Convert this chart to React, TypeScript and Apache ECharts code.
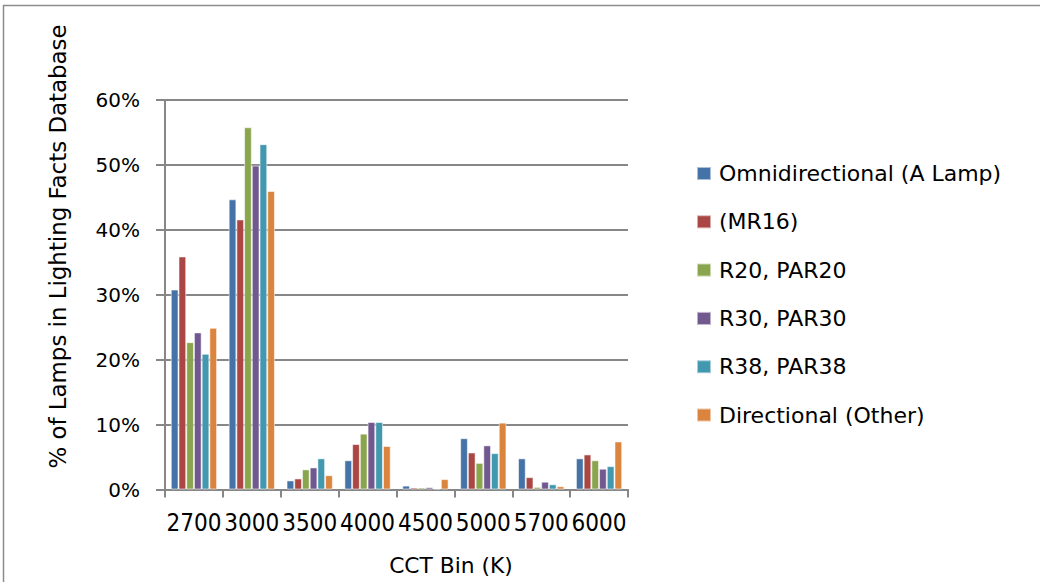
import React, { useEffect, useRef } from "react";
import * as echarts from "echarts";

const categories = ["2700", "3000", "3500", "4000", "4500", "5000", "5700", "6000"];
const seriesNames = [
  "Omnidirectional (A Lamp)",
  "(MR16)",
  "R20, PAR20",
  "R30, PAR30",
  "R38, PAR38",
  "Directional (Other)",
];
const omni = [30.8, 44.7, 1.4, 4.5, 0.6, 7.9, 4.8, 4.8];
const mr16 = [35.9, 41.6, 1.7, 7.0, 0.3, 5.7, 1.9, 5.4];
const r20 = [22.7, 55.8, 3.1, 8.6, 0.3, 4.1, 0.4, 4.5];
const r30 = [24.2, 49.9, 3.4, 10.4, 0.35, 6.8, 1.2, 3.2];
const r38 = [20.9, 53.2, 4.8, 10.4, 0.15, 5.6, 0.8, 3.6];
const dirOther = [24.9, 46.0, 2.2, 6.7, 1.6, 10.3, 0.5, 7.4];
const seriesData = [omni, mr16, r20, r30, r38, dirOther];
const colors = ["#4572A7", "#AA4643", "#89A54E", "#71588F", "#4198AF", "#DB843D"];
const yTicks = [0, 10, 20, 30, 40, 50, 60];

const FONT = "'DejaVu Sans', sans-serif";
const NARROW = "'Liberation Sans Narrow', 'DejaVu Sans Condensed', 'DejaVu Sans', sans-serif";
const GREY = "#878787";

export default function App() {
  const ref = useRef<HTMLDivElement>(null);
  useEffect(() => {
    document.body.style.margin = "0";
    const chart = echarts.init(ref.current!, null, { renderer: "svg" });
    chart.setOption({
      animation: false,
      backgroundColor: "#ffffff",
      textStyle: { fontFamily: FONT, color: "#000" },
      grid: { left: 165, right: 412, top: 100, bottom: 92.5, containLabel: false },
      legend: {
        orient: "vertical",
        left: 691,
        top: 157.5,
        icon: "rect",
        itemWidth: 14,
        itemHeight: 13,
        itemGap: 26.3,
        textStyle: { fontFamily: FONT, fontSize: 22, color: "#000", padding: [0, 0, 0, 3] },
        data: seriesNames,
      },
      xAxis: {
        type: "category",
        data: categories,
        axisLine: { lineStyle: { color: GREY, width: 2 } },
        axisTick: { show: true, length: 8, lineStyle: { color: GREY, width: 2 } },
        axisLabel: { fontFamily: NARROW, fontSize: 24, color: "#000", margin: 21, interval: 0 },
      },
      yAxis: {
        type: "value",
        min: yTicks[0],
        max: yTicks[yTicks.length - 1],
        interval: 10,
        axisLine: { show: true, lineStyle: { color: GREY, width: 2 } },
        axisTick: { show: true, length: 9, lineStyle: { color: GREY, width: 2 } },
        axisLabel: { fontFamily: FONT, fontSize: 20, color: "#000", margin: 25, formatter: "{value}%" },
        splitLine: { show: true, lineStyle: { color: GREY, width: 2 } },
      },
      series: seriesNames.map((name, i) => ({
        name,
        type: "bar",
        data: seriesData[i],
        barGap: "0%",
        barCategoryGap: "20%",
        itemStyle: { color: colors[i], borderColor: "rgba(255,255,255,0.55)", borderWidth: 1 },
      })),
      graphic: [
        {
          type: "rect",
          shape: { x: 3.5, y: 5.5, width: 1100, height: 700 },
          style: { fill: "none", stroke: "#8c8c8c", lineWidth: 1.5 },
          silent: true,
        },
        {
          type: "text",
          x: 451,
          y: 565,
          style: { text: "CCT Bin (K)", fontFamily: FONT, fontSize: 21.8, fill: "#000", textAlign: "center", textVerticalAlign: "middle" },
        },
        {
          type: "text",
          x: 58,
          y: 246.5,
          rotation: Math.PI / 2,
          style: {
            text: "% of Lamps in Lighting Facts Database",
            fontFamily: FONT,
            fontSize: 22.9,
            fill: "#000",
            textAlign: "center",
            textVerticalAlign: "middle",
          },
        },
      ],
    });
    return () => chart.dispose();
  }, []);
  return <div ref={ref} style={{ width: 1040, height: 582 }} />;
}
